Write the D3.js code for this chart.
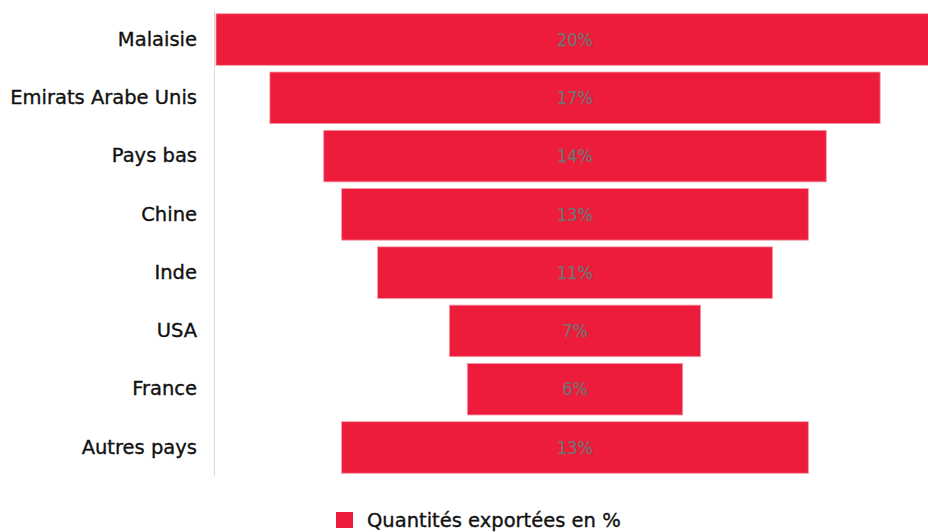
<!DOCTYPE html>
<html>
<head>
<meta charset="utf-8">
<script src="https://cdn.jsdelivr.net/npm/d3@7"></script>
<style>
  html, body { margin: 0; padding: 0; background: #fff; }
  svg { display: block; font-family: "DejaVu Sans", Verdana, sans-serif; }
</style>
</head>
<body>
<svg id="chart" width="928" height="532"></svg>
<script>
// Export shares by destination country
const countries = ["Malaisie", "Emirats Arabe Unis", "Pays bas", "Chine", "Inde", "USA", "France", "Autres pays"];
const shares = [20, 17, 14, 13, 11, 7, 6, 13];
const seriesName = "Quantités exportées en %";

const data = countries.map((c, i) => ({ country: c, value: shares[i] }));

const svg = d3.select("#chart");
const barColor = "#ed1c3b";
const textColor = "#111";

// Bars are centred around zero to form a funnel
const x = d3.scaleLinear().domain([-20, 20]).range([216, 934]);
const y = d3.scaleBand().domain(countries).range([12, 475]).paddingInner(0.115).paddingOuter(0.03);

// Vertical category axis line
svg.append("line")
  .attr("x1", 214.5).attr("x2", 214.5)
  .attr("y1", 11).attr("y2", 476)
  .attr("stroke", "#d9d9d9").attr("stroke-width", 1);

// Category labels
const yAxis = d3.axisLeft(y).tickSize(0).tickPadding(0);
const gy = svg.append("g").attr("transform", "translate(197,0)").call(yAxis);
gy.select(".domain").remove();
gy.selectAll("text")
  .attr("font-size", 19.5)
  .attr("fill", textColor)
  .attr("stroke", textColor)
  .attr("stroke-width", 0.35)
  .attr("font-family", "\"DejaVu Sans\", Verdana, sans-serif");

// Funnel bars
svg.append("g").selectAll("rect")
  .data(data)
  .join("rect")
  .attr("x", d => x(-d.value))
  .attr("width", d => x(d.value) - x(-d.value))
  .attr("y", d => y(d.country))
  .attr("height", y.bandwidth())
  .attr("fill", barColor)
  .attr("stroke", "#f39aa7")
  .attr("stroke-width", 0.8);

// Value labels
svg.append("g").selectAll("text")
  .data(data)
  .join("text")
  .attr("x", x(0))
  .attr("y", d => y(d.country) + y.bandwidth() / 2)
  .attr("dy", "0.35em")
  .attr("text-anchor", "middle")
  .attr("font-size", 18)
  .attr("font-family", "\"DejaVu Sans Condensed\", \"DejaVu Sans\", sans-serif")
  .attr("fill", "#727272")
  .attr("stroke", "#727272")
  .attr("stroke-width", 0.25)
  .text(d => d.value + "%");

// Legend
const legend = svg.append("g").attr("transform", "translate(336,512)");
legend.append("rect").attr("width", 17).attr("height", 16).attr("fill", barColor);
legend.append("text")
  .attr("x", 31).attr("y", 8).attr("dy", "0.38em")
  .attr("font-size", 19.5)
  .attr("fill", textColor)
  .attr("stroke", textColor)
  .attr("stroke-width", 0.35)
  .text(seriesName);
</script>
</body>
</html>
